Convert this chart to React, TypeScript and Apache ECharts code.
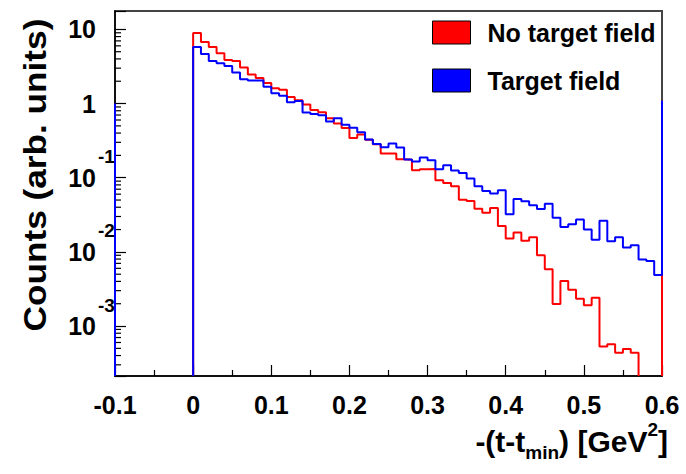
import React, { useEffect, useRef } from "react";
import * as echarts from "echarts";

// ---------- data ----------
const BIN_WIDTH = 0.01;
const X_MIN = -0.1;
const X_MAX = 0.6;
const Y_MIN = 2.12e-4;
const Y_MAX = 17.7;

// "No target field" histogram, 60 bins from 0 to 0.6
const noFieldCounts = [
  8.94, 6.76, 5.79, 4.76, 3.87, 3.75, 3.06, 2.46, 2.21, 1.9,
  1.61, 1.54, 1.23, 1.11, 0.969, 0.82, 0.763, 0.634, 0.538, 0.469,
  0.344, 0.382, 0.325, 0.283, 0.212, 0.212, 0.178, 0.175, 0.126, 0.13,
  0.131, 0.0925, 0.0851, 0.0768, 0.0505, 0.0485, 0.0382, 0.0338, 0.0392, 0.0224,
  0.0152, 0.0183, 0.0141, 0.0158, 0.00903, 0.00581, 0.00199, 0.00405, 0.00308, 0.00234,
  0.00191, 0.0024, 0.000531, 0.00057, 0.000435, 0.000489, 0.000435, 0, 0, 0,
];

// "Target field" histogram, 60 bins from 0 to 0.6
const fieldCounts = [
  5.79, 4.66, 3.75, 3.49, 3.21, 2.62, 2.13, 2.04, 2.04, 1.69,
  1.38, 1.27, 1.04, 1.08, 0.756, 0.724, 0.696, 0.572, 0.634, 0.518,
  0.472, 0.41, 0.327, 0.285, 0.258, 0.289, 0.255, 0.176, 0.165, 0.187,
  0.172, 0.13, 0.147, 0.125, 0.116, 0.0975, 0.0768, 0.0664, 0.0612, 0.0679,
  0.0322, 0.0518, 0.0482, 0.0426, 0.038, 0.0444, 0.0289, 0.0217, 0.0235, 0.0274,
  0.02, 0.0146, 0.0262, 0.0139, 0.0158, 0.0115, 0.0123, 0.0079, 0.00756, 0.00488,
];

// out-of-range neighbour bins (drawn as edge lines by ROOT)
const fieldUnderflow = 1.0;
const fieldOverflow = 1.1;
const noFieldOverflow = 1.1;

const seriesNames = ["No target field", "Target field"];
const yLabelExponents = [1, 0, -1, -2, -3];

const FONT = "'Liberation Sans', Arial, Helvetica, sans-serif";
const GAP: any = ["-", "-"];

function binEdge(i: number) {
  return Math.round(i * BIN_WIDTH * 1000) / 1000;
}

function buildSteps(counts: number[], overflow: number, underflow?: number) {
  const pts: any[] = [];
  if (underflow !== undefined) {
    pts.push([X_MIN, underflow], [X_MIN, Y_MIN], GAP);
  }
  let open = false;
  let last = 0;
  counts.forEach((v, i) => {
    const x = binEdge(i);
    if (v > 0) {
      if (!open) pts.push([x, Y_MIN]);
      pts.push([x, v]);
      open = true;
      last = v;
    } else if (open) {
      pts.push([x, Y_MIN], GAP);
      open = false;
    }
  });
  const xEnd = binEdge(counts.length);
  if (open) {
    pts.push([xEnd, last], [xEnd, overflow]);
  } else {
    pts.push([xEnd, Y_MIN], [xEnd, overflow]);
  }
  return pts;
}

const minorTickValues: number[] = [];
for (let k = -4; k <= 1; k++) {
  for (let m = 2; m <= 9; m++) {
    const v = m * Math.pow(10, k);
    if (v > Y_MIN && v < Y_MAX) minorTickValues.push(v);
  }
}

export default function App() {
  const ref = useRef<HTMLDivElement>(null);

  useEffect(() => {
    if (!ref.current) return;
    const chart = echarts.init(ref.current, undefined, { renderer: "svg" });

    const option: any = {
      animation: false,
      backgroundColor: "#ffffff",
      grid: {
        left: 115,
        right: 24,
        top: 11,
        bottom: 98,
        show: true,
        borderColor: "#444",
        borderWidth: 2,
        backgroundColor: "transparent",
      },
      legend: {
        data: seriesNames,
        orient: "vertical",
        left: 432,
        top: 20,
        padding: 0,
        itemWidth: 38,
        itemHeight: 23,
        itemGap: 23,
        icon: "rect",
        itemStyle: { borderColor: "#000", borderWidth: 1 },
        textStyle: {
          fontFamily: FONT,
          fontWeight: "bold",
          fontSize: 25,
          color: "#000",
          padding: [0, 0, 0, 12],
        },
        selectedMode: false,
      },
      xAxis: {
        type: "value",
        min: X_MIN,
        max: X_MAX,
        interval: 0.1,
        axisLine: { show: true, onZero: false, lineStyle: { color: "#000", width: 1.5 } },
        axisTick: { show: true, inside: true, length: 11, lineStyle: { color: "#000", width: 1.2 } },
        minorTick: { show: true, splitNumber: 2, length: 6, lineStyle: { color: "#000", width: 1.2 } },
        splitLine: { show: false },
        axisLabel: {
          margin: 16,
          fontFamily: FONT,
          fontWeight: "bold",
          fontSize: 25,
          color: "#000",
        },
      },
      yAxis: {
        type: "log",
        logBase: 10,
        min: Y_MIN,
        max: Y_MAX,
        axisLine: { show: true, onZero: false, lineStyle: { color: "#000", width: 1.5 } },
        axisTick: { show: true, inside: true, length: 11, lineStyle: { color: "#000", width: 1.2 } },
        splitLine: { show: false },
        axisLabel: { show: false },
      },
      series: [
        {
          name: "No target field",
          type: "line",
          step: "end",
          data: buildSteps(noFieldCounts, noFieldOverflow),
          showSymbol: false,
          symbol: "none",
          clip: false,
          connectNulls: false,
          lineStyle: { color: "#ff0000", width: 2 },
          itemStyle: { color: "#ff0000" },
          z: 3,
        },
        {
          name: "Target field",
          type: "line",
          step: "end",
          data: buildSteps(fieldCounts, fieldOverflow, fieldUnderflow),
          showSymbol: false,
          symbol: "none",
          clip: false,
          connectNulls: false,
          lineStyle: { color: "#0000ff", width: 2 },
          itemStyle: { color: "#0000ff" },
          z: 4,
        },
        {
          name: "minorTicks",
          type: "custom",
          silent: true,
          clip: false,
          data: minorTickValues.map((v) => [X_MIN, v]),
          encode: { x: 0, y: 1 },
          renderItem: (params: any, api: any) => {
            const p = api.coord([api.value(0), api.value(1)]);
            return {
              type: "line",
              shape: { x1: p[0], y1: p[1], x2: p[0] + 6, y2: p[1] },
              style: { stroke: "#000", lineWidth: 1.2 },
            };
          },
          z: 2,
        },
      ],
    };

    chart.setOption(option);

    const labelStyle = {
      fontFamily: FONT,
      fontWeight: "bold",
      fill: "#000",
    };
    const graphics: any[] = [];
    yLabelExponents.forEach((e) => {
      const py = chart.convertToPixel({ yAxisIndex: 0 }, Math.pow(10, e)) as number;
      if (e === 0 || e === 1) {
        graphics.push({
          type: "text",
          x: 96,
          y: py,
          style: { ...labelStyle, text: e === 0 ? "1" : "10", fontSize: 25, align: "right", verticalAlign: "middle" },
        });
      } else {
        graphics.push({
          type: "text",
          x: 96,
          y: py,
          style: { ...labelStyle, text: "10", fontSize: 25, align: "right", verticalAlign: "middle" },
        });
        graphics.push({
          type: "text",
          x: 98,
          y: py - 21,
          style: { ...labelStyle, text: String(e), fontSize: 19, align: "left", verticalAlign: "middle" },
        });
      }
    });
    graphics.push({
      type: "text",
      x: 35,
      y: 175,
      rotation: Math.PI / 2,
      scaleX: 1.1,
      style: {
        ...labelStyle,
        text: "Counts (arb. units)",
        fontSize: 32,
        align: "center",
        verticalAlign: "middle",
      },
    });
    graphics.push({
      type: "text",
      x: 668,
      y: 441,
      style: {
        ...labelStyle,
        text: "-(t-t{sub|min}) [GeV{sup|2}]",
        fontSize: 30,
        align: "right",
        verticalAlign: "middle",
        rich: {
          sub: { fontFamily: FONT, fontWeight: "bold", fontSize: 19, verticalAlign: "bottom", lineHeight: 42 },
          sup: { fontFamily: FONT, fontWeight: "bold", fontSize: 19, verticalAlign: "top", lineHeight: 42 },
        },
      },
    });
    chart.setOption({ graphic: graphics });

    return () => chart.dispose();
  }, []);

  return (
    <div
      ref={ref}
      style={{ position: "fixed", left: 0, top: 0, width: 686, height: 474, background: "#fff" }}
    />
  );
}
